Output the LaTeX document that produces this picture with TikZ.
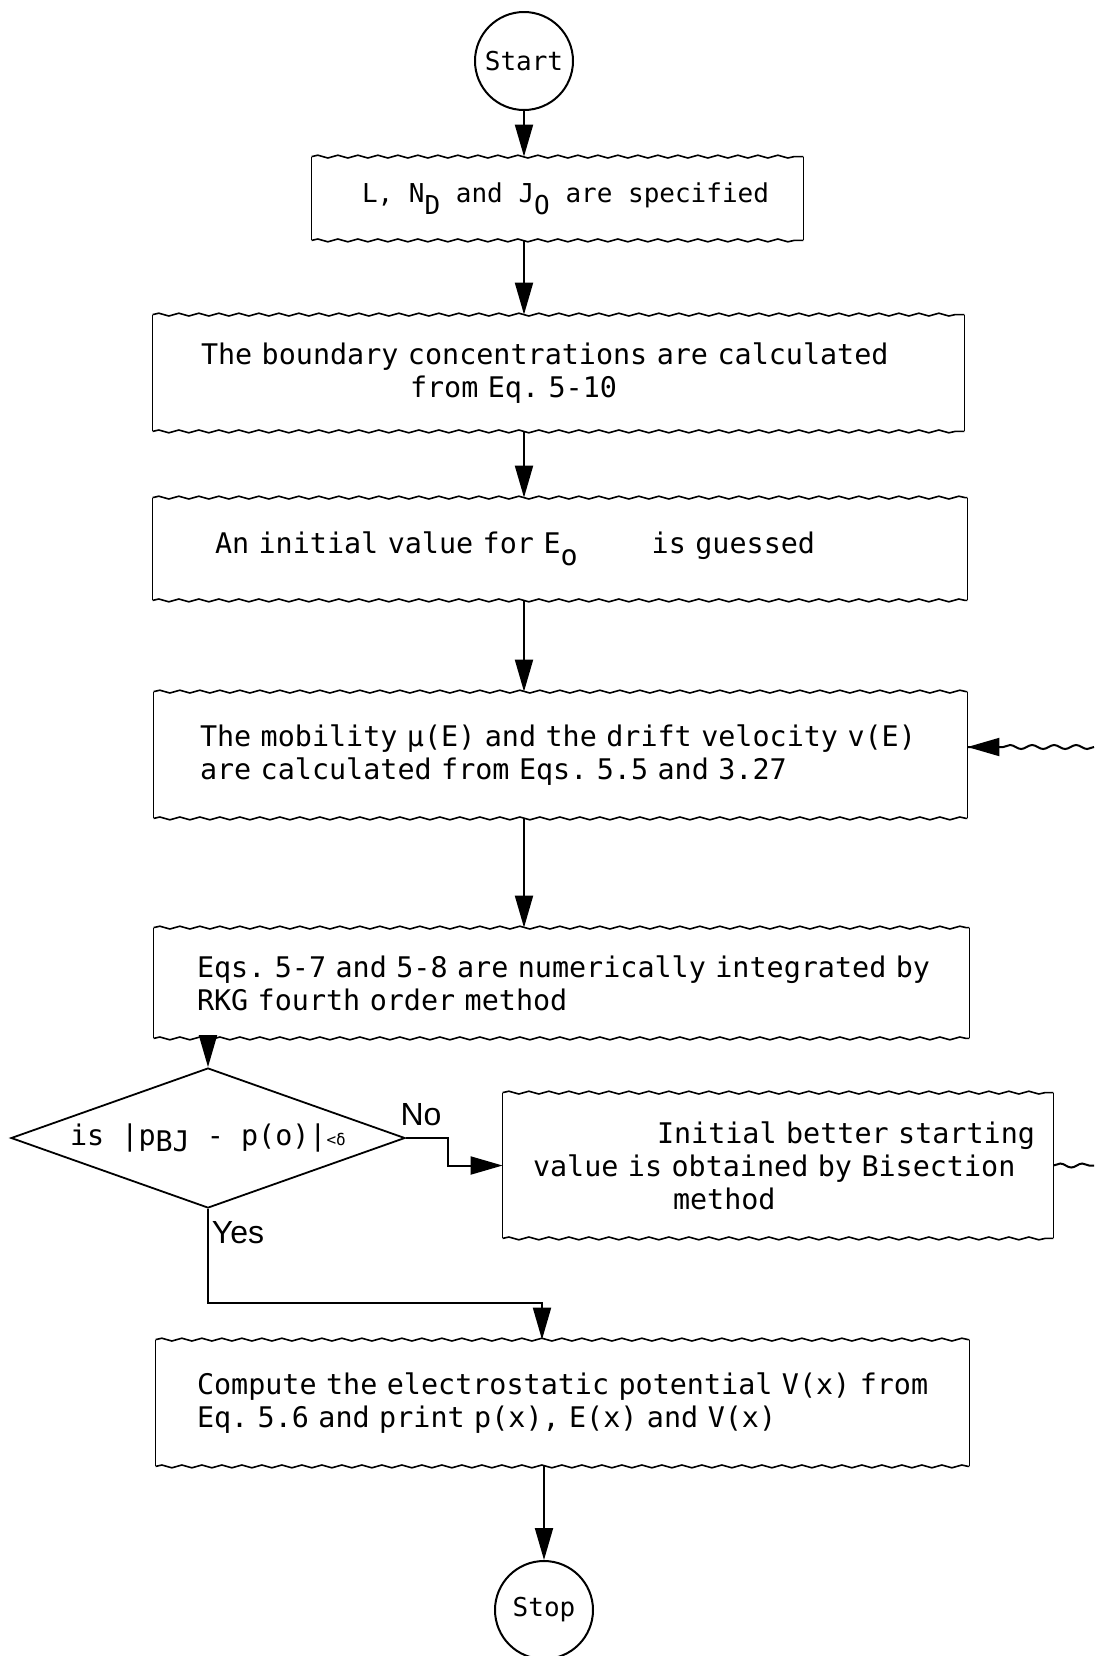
\documentclass[tikz,border=0pt]{standalone}
\usepackage{fontspec}
\setmonofont{DejaVu Sans Mono}
\newfontfamily\handfont{Liberation Sans}
\usetikzlibrary{arrows.meta,shapes.geometric,decorations.pathmorphing}
\newcommand\prt{\ttfamily\frenchspacing\fontsize{14.2}{16.5}\selectfont}
\newcommand\prtsmall{\ttfamily\frenchspacing\fontsize{13}{16.5}\selectfont}
\newcommand\lsub[1]{\raisebox{-6pt}{#1}}
\newcommand\pl[1]{\mbox{#1}}
\tikzset{
  pbox/.style={inner ysep=0pt, align=left, font=\prt},
  boxedge/.style={line width=0.8pt},
  wavy/.style={decorate, decoration={snake, amplitude=0.7pt, segment length=10pt}},
  arr/.style={line width=1pt, -{Triangle[width=9pt,length=16pt]}},
  wavyarr/.style={line width=1pt, decorate, decoration={snake, amplitude=1pt, segment length=11pt, post length=16pt}},
  term/.style={circle, draw, line width=1pt, minimum size=49pt, inner sep=0pt, font=\prtsmall},
  yn/.style={font=\handfont\fontsize{16}{16}\selectfont}
}
\begin{document}
\begin{tikzpicture}[x=0.5pt,y=-0.5pt]
\useasboundingbox[fill=white] (0,0) rectangle (1094,1656);

\node[term] (st) at (524,61) {Start};

\node[pbox, font=\prtsmall, align=center, inner xsep=0pt, minimum width=245.5pt, minimum height=41.5pt] (b1) at (557.5,198.5)
  {\hspace*{8pt}L, N\lsub{D} and J\lsub{O} are specified};

\node[pbox, inner xsep=24pt, text width=357.5pt, minimum height=58pt] (b2) at (558.5,373)
  {\pl{The boundary concentrations are calculated}\\\pl{\hspace*{104.5pt}from Eq. 5-10}};

\node[pbox, inner xsep=31pt, text width=345pt, minimum height=51pt] (b3) at (560,549)
  {\pl{An initial value for E\lsub{o}\hspace{37pt}is guessed}};

\node[pbox, inner xsep=23pt, text width=360.5pt, minimum height=63pt] (b4) at (560.5,755)
  {\pl{The mobility μ(E) and the drift velocity v(E)}\\\pl{are calculated from Eqs. 5.5 and 3.27}};

\node[pbox, inner xsep=21.5pt, text width=364.5pt, minimum height=55pt] (b5) at (561.5,983)
  {\pl{Eqs. 5-7 and 5-8 are numerically integrated by}\\\pl{RKG fourth order method}};

\node[diamond, aspect=2.8, draw, line width=0.9pt, inner sep=0pt, minimum width=197pt, minimum height=70pt, font=\prt] (dia) at (208,1138)
  {is |p\raisebox{-3pt}{BJ} - p(o)|{\fontsize{8}{8}\selectfont <δ}};

\node[pbox, inner xsep=15pt, text width=245pt, minimum height=72.5pt] (b6) at (778,1165.5)
  {\pl{\hspace*{62pt}Initial better starting}\\\pl{value is obtained by Bisection}\\\pl{\hspace*{70pt}method}};

\node[pbox, inner xsep=20.5pt, text width=365.5pt, minimum height=63pt] (b7) at (562.5,1403)
  {\pl{Compute the electrostatic potential V(x) from}\\\pl{Eq. 5.6 and print p(x), E(x) and V(x)}};

\node[term] (sp) at (544,1610) {Stop};

% box borders with wavy paper edges
\foreach \n in {b1,b2,b3,b4,b5,b6,b7}{
  \draw[boxedge] (\n.north west) -- (\n.south west);
  \draw[boxedge] (\n.north east) -- (\n.south east);
  \draw[boxedge, wavy] (\n.north west) -- (\n.north east);
  \draw[boxedge, wavy] (\n.south west) -- (\n.south east);
}

% main trunk
\draw[arr] (st) -- (st |- b1.north);
\draw[arr] (b1.south -| st) -- (b2.north -| st);
\draw[arr] (b2.south -| st) -- (b3.north -| st);
\draw[arr] (b3.south -| st) -- (b4.north -| st);
\draw[arr] (b4.south -| st) -- (b5.north -| st);
\draw[arr] (b5.south -| dia.north) -- (dia.north);

% No branch
\draw[arr] (dia.east) -- ++(42,0) |- (b6.west);
\node[yn] (no) at (421,1115) {No};

% Yes branch
\coordinate (yc) at (542,1303);
\draw[arr] (dia.south) |- (yc) -- (yc |- b7.north);
\node[yn] (yes) at (238,1233) {Yes};

\draw[arr] (b7.south -| sp) -- (sp);

% loop back (leaves the page on the right)
\coordinate (r1) at (1094,1165.5);
\coordinate (r2) at (1094,747);
\draw[line width=1pt, decorate, decoration={snake, amplitude=1pt, segment length=11pt}] (b6.east) -- (r1);
\draw[wavyarr] (r2) -- (r2 -| b4.east);
\draw[line width=1pt, -{Triangle[width=9pt,length=16pt]}] ([xshift=16pt]r2 -| b4.east) -- (r2 -| b4.east);
\end{tikzpicture}
\end{document}
